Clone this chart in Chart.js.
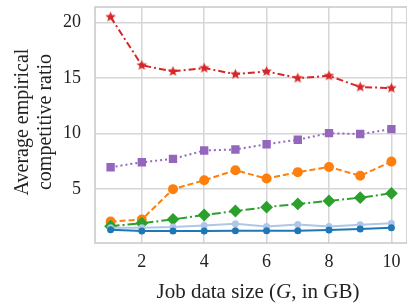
<!DOCTYPE html>
<html>
<head>
<meta charset="utf-8">
<script src="https://cdn.jsdelivr.net/npm/chart.js@4"></script>
<style>
  html, body { margin: 0; padding: 0; background: #fff; overflow: hidden; }
  #wrap { width: 414px; height: 306px; }
</style>
</head>
<body>
<div id="wrap"><canvas id="ratioChart" width="414" height="306"></canvas></div>
<script>
var sizes = [1, 2, 3, 4, 5, 6, 7, 8, 9, 10];
var yTicks = [5, 10, 15, 20];
var xTicks = [2, 4, 6, 8, 10];

var redVals = [20.5, 16.15, 15.6, 15.9, 15.35, 15.6, 15.0, 15.2, 14.2, 14.1];
var purpleVals = [6.97, 7.42, 7.72, 8.48, 8.57, 9.04, 9.45, 10.04, 9.96, 10.4];
var orangeVals = [2.08, 2.26, 5.0, 5.8, 6.7, 5.95, 6.53, 7.0, 6.2, 7.48];
var greenVals = [1.66, 1.93, 2.28, 2.67, 3.03, 3.38, 3.67, 3.94, 4.23, 4.62];
var lightBlueVals = [1.52, 1.52, 1.58, 1.73, 1.88, 1.64, 1.81, 1.64, 1.79, 1.93];
var blueVals = [1.35, 1.22, 1.22, 1.22, 1.26, 1.26, 1.26, 1.31, 1.4, 1.52];

function toPoints(vals) {
    return vals.map(function (v, i) { return { x: sizes[i], y: v }; });
}

// filled star marker
function makeStar(color, r) {
    var c = document.createElement('canvas');
    var s = Math.ceil(r * 2 + 2);
    c.width = s; c.height = s;
    var g = c.getContext('2d');
    g.fillStyle = color;
    g.beginPath();
    for (var i = 0; i < 10; i++) {
        var rad = (i % 2 === 0) ? r : r * 0.45;
        var a = -Math.PI / 2 + i * Math.PI / 5;
        var px = s / 2 + rad * Math.cos(a), py = s / 2 + rad * Math.sin(a);
        if (i === 0) g.moveTo(px, py); else g.lineTo(px, py);
    }
    g.closePath();
    g.fill();
    return c;
}

var font = "'Liberation Serif', 'DejaVu Serif', serif";

// frame around the plot + axis titles (x title has an italic G)
var frame = {
    id: 'frame',
    afterDraw: function (chart) {
        var a = chart.chartArea, ctx = chart.ctx;
        ctx.save();
        ctx.strokeStyle = '#c8c8c8';
        ctx.lineWidth = 1.5;
        ctx.strokeRect(a.left, a.top, a.right - a.left, a.bottom - a.top);

        ctx.fillStyle = '#222';
        ctx.textBaseline = 'middle';
        var parts = [['Job data size (', 'normal'], ['G', 'italic'], [', in GB)', 'normal']];
        var total = 0;
        parts.forEach(function (p) { ctx.font = p[1] + ' 21px ' + font; total += ctx.measureText(p[0]).width; });
        var x = 258 - total / 2;
        ctx.textAlign = 'left';
        parts.forEach(function (p) {
            ctx.font = p[1] + ' 21px ' + font;
            ctx.fillText(p[0], x, 292);
            x += ctx.measureText(p[0]).width;
        });

        ctx.translate(0, 122);
        ctx.rotate(-Math.PI / 2);
        ctx.textAlign = 'center';
        ctx.font = '20px ' + font;
        ctx.fillText('Average empirical', 0, 23);
        ctx.fillText('competitive ratio', 0, 46);
        ctx.restore();
    }
};

new Chart(document.getElementById('ratioChart').getContext('2d'), {
    type: 'line',
    data: {
        datasets: [
            { data: toPoints(blueVals), borderColor: '#1f77b4', backgroundColor: '#1f77b4', borderWidth: 2,
              pointStyle: 'circle', pointRadius: 2.5 },
            { data: toPoints(lightBlueVals), borderColor: '#aec7e8', backgroundColor: '#aec7e8', borderWidth: 2,
              pointStyle: 'circle', pointRadius: 2.5 },
            { data: toPoints(greenVals), borderColor: '#2ca02c', backgroundColor: '#2ca02c', borderWidth: 2,
              borderDash: [9, 3, 2, 3], pointStyle: 'rectRot', pointRadius: 5 },
            { data: toPoints(orangeVals), borderColor: '#ff7f0e', backgroundColor: '#ff7f0e', borderWidth: 2,
              borderDash: [6, 3], pointStyle: 'circle', pointRadius: 4 },
            { data: toPoints(purpleVals), borderColor: '#9467bd', backgroundColor: '#9467bd', borderWidth: 2,
              borderDash: [2, 3], pointStyle: 'rect', pointRadius: 4.5 },
            { data: toPoints(redVals), borderColor: '#d62728', backgroundColor: '#d62728', borderWidth: 2,
              borderDash: [7, 3, 2, 3], pointStyle: makeStar('#d62728', 5.5), pointRadius: 5 }
        ]
    },
    options: {
        responsive: false,
        animation: false,
        layout: { padding: { top: 3, right: 0, left: 0, bottom: 0 } },
        plugins: { legend: { display: false }, tooltip: { enabled: false } },
        scales: {
            x: {
                type: 'linear',
                min: 0.5,
                max: 10.5,
                afterBuildTicks: function (axis) { axis.ticks = xTicks.map(function (v) { return { value: v }; }); },
                afterFit: function (axis) { axis.height = 63; axis.paddingLeft = 0; axis.paddingRight = 0; },
                grid: { color: '#d6d6d6', lineWidth: 1.5, drawTicks: false },
                border: { display: false },
                ticks: { color: '#222', padding: 8, font: { family: font, size: 18 } }
            },
            y: {
                min: 0.15,
                max: 21.4,
                afterBuildTicks: function (axis) { axis.ticks = yTicks.map(function (v) { return { value: v }; }); },
                afterFit: function (axis) { axis.width = 95; axis.paddingTop = 0; axis.paddingBottom = 0; },
                grid: { color: '#d6d6d6', lineWidth: 1.5, drawTicks: false },
                border: { display: false },
                ticks: { color: '#222', padding: 14, font: { family: font, size: 18 } }
            }
        }
    },
    plugins: [frame]
});
</script>
</body>
</html>
